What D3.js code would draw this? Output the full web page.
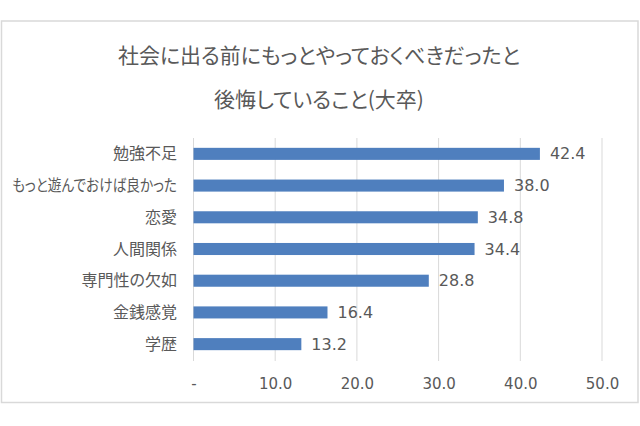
<!DOCTYPE html>
<html><head><meta charset="utf-8">
<script src="https://cdn.jsdelivr.net/npm/d3@7/dist/d3.min.js"></script>
<style>
html,body{margin:0;padding:0;background:#fff;}
svg{display:block;}
.jp{font-family:"Noto Sans CJK JP","Noto Sans",sans-serif;font-feature-settings:"palt" 1;font-kerning:normal;}
.num{font-family:"DejaVu Sans",Verdana,sans-serif;}
</style>
</head><body>
<svg id="chart" width="640" height="426"></svg>
<script>
const titleLines = ["社会に出る前にもっとやっておくべきだったと", "後悔していること(大卒)"];
const categories = ["勉強不足", "もっと遊んでおけば良かった", "恋愛", "人間関係", "専門性の欠如", "金銭感覚", "学歴"];
const values = [42.4, 38.0, 34.8, 34.4, 28.8, 16.4, 13.2];
const tickValues = [0, 10, 20, 30, 40, 50];
const tickLabels = ["-", "10.0", "20.0", "30.0", "40.0", "50.0"];

const svg = d3.select("#chart");
const textColor = "#595959";
const gridColor = "#d9d9d9";
const barColor = "#4f7fbe";

function fitWidth(sel, maxW) {
  sel.each(function() {
    const w = this.getComputedTextLength();
    if (w > maxW) d3.select(this).attr("textLength", maxW).attr("lengthAdjust", "spacingAndGlyphs");
  });
}

// outer border
svg.append("rect").attr("x", 1.5).attr("y", 21).attr("width", 636.5).attr("height", 381.5)
  .attr("fill", "#fff").attr("stroke", gridColor).attr("stroke-width", 1.5);

// title
const tt = svg.append("g").selectAll("text").data(titleLines).join("text")
  .attr("class", "jp")
  .attr("x", 319).attr("y", (d, i) => 56 + i * 44)
  .attr("dy", "0.35em")
  .attr("text-anchor", "middle")
  .attr("fill", textColor)
  .attr("font-size", 21)
  .text(d => d);
fitWidth(tt, 402);

const x = d3.scaleLinear().domain([0, 50]).range([193.5, 602]);
const y = d3.scaleBand().domain(categories).range([138, 360]).paddingInner(0.62).paddingOuter(0.31);

// gridlines
svg.append("g").selectAll("line").data(tickValues).join("line")
  .attr("x1", d => x(d)).attr("x2", d => x(d))
  .attr("y1", 138).attr("y2", 361)
  .attr("stroke", gridColor).attr("stroke-width", 1);

// x axis labels
const xAxis = d3.axisBottom(x).tickValues(tickValues).tickSize(0).tickPadding(0)
  .tickFormat((d, i) => tickLabels[i]);
const gx = svg.append("g").attr("transform", "translate(0,384)").call(xAxis);
gx.select(".domain").remove();
gx.selectAll("text").attr("class", "num").attr("fill", textColor).attr("font-size", 15)
  .attr("dy", "0.35em").attr("y", 0);

// y axis labels
const yAxis = d3.axisLeft(y).tickSize(0).tickPadding(0);
const gy = svg.append("g").attr("transform", "translate(177,0)").call(yAxis);
gy.select(".domain").remove();
const yt = gy.selectAll("text").attr("class", "jp").attr("fill", textColor).attr("font-size", 16)
  .attr("dy", "0.35em");
fitWidth(yt, 165);

// bars
const data = categories.map((c, i) => ({c, v: values[i]}));
svg.append("g").selectAll("rect").data(data).join("rect")
  .attr("x", x(0)).attr("y", d => y(d.c))
  .attr("width", d => x(d.v) - x(0)).attr("height", y.bandwidth())
  .attr("fill", barColor);

// value labels
svg.append("g").selectAll("text").data(data).join("text")
  .attr("class", "num")
  .attr("x", d => x(d.v) + 10).attr("y", d => y(d.c) + y.bandwidth() / 2)
  .attr("dy", "0.35em")
  .attr("fill", textColor).attr("font-size", 16)
  .text(d => d.v.toFixed(1));
</script>
</body></html>
